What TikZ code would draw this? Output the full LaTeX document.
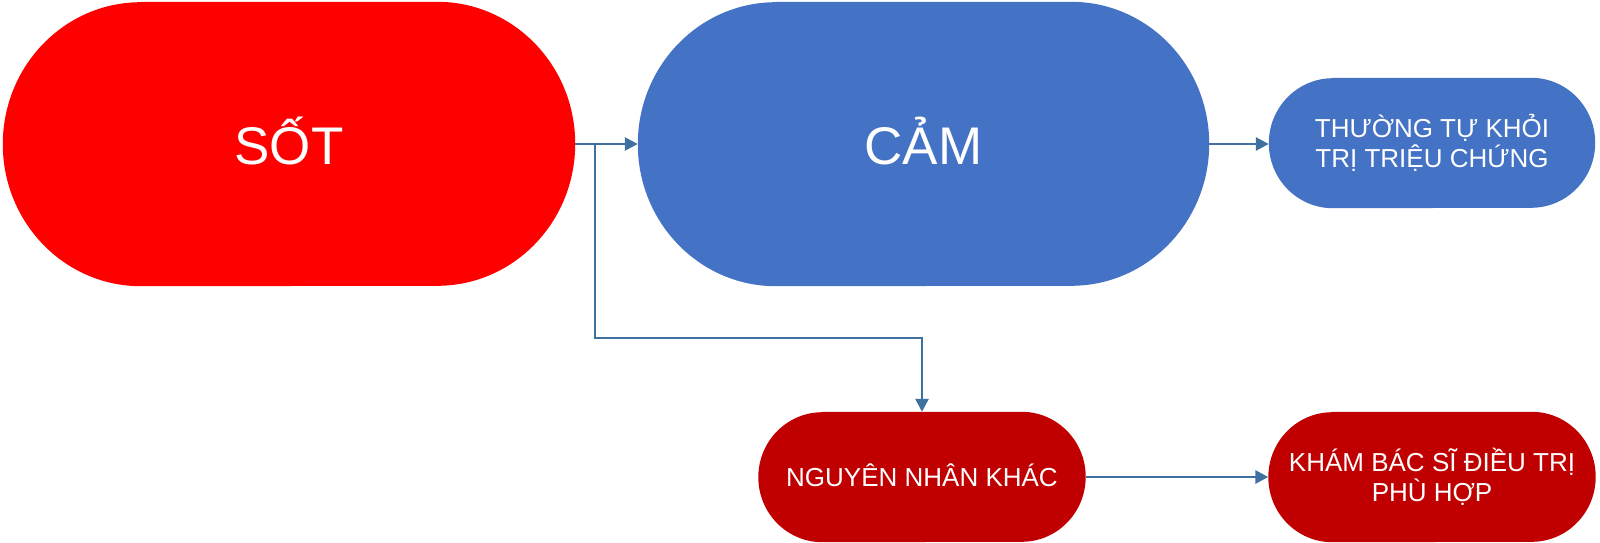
\documentclass[tikz,border=0pt]{standalone}
\usepackage{fontspec}
\setmainfont{Liberation Sans}
\usetikzlibrary{arrows.meta,backgrounds}
\definecolor{sotred}{RGB}{255,0,0}
\definecolor{camblue}{RGB}{68,114,196}
\definecolor{darkred}{RGB}{192,0,0}
\definecolor{connblue}{RGB}{62,112,160}
\newcommand\capsulefill[4]{%
  \fill[#2] ([xshift=#3]#1.north west) -- ([xshift=-#3]#1.north east)
    arc[start angle=90,end angle=-90,x radius=#3,y radius=#4]
    -- ([xshift=#3]#1.south west)
    arc[start angle=270,end angle=90,x radius=#3,y radius=#4] -- cycle;}
\tikzset{
  bigbox/.style={rectangle, minimum width=#1, minimum height=284pt, inner sep=0pt, text=white, font=\fontsize{53}{60}\selectfont, align=center},
  smallbox/.style={rectangle, minimum width=#1, minimum height=130pt, inner sep=0pt, text=white, font=\fontsize{26}{30}\selectfont, align=center},
  conn/.style={draw=connblue, line width=2.6pt, -{Triangle[length=13pt,width=13pt]}}
}
\begin{document}
\begin{tikzpicture}[x=1pt,y=-1pt]
\useasboundingbox (0,0) rectangle (1600,543);
\node[bigbox=572pt] (sot) at (289,144) {\raisebox{6pt}{SỐT}};
\node[bigbox=571pt] (cam) at (923.5,144) {\raisebox{6pt}{CẢM}};
\node[smallbox=326pt] (thuong) at (1432,143) {THƯỜNG TỰ KHỎI\\TRỊ TRIỆU CHỨNG};
\node[smallbox=327pt] (nguyen) at (922,477) {\raisebox{3pt}{NGUYÊN NHÂN KHÁC}};
\node[smallbox=327pt] (kham) at (1432,477) {KHÁM BÁC SĨ ĐIỀU TRỊ\\PHÙ HỢP};
\begin{scope}[on background layer]
\capsulefill{sot}{sotred}{138pt}{142pt}
\capsulefill{cam}{camblue}{138pt}{142pt}
\capsulefill{thuong}{camblue}{64pt}{65pt}
\capsulefill{nguyen}{darkred}{64pt}{65pt}
\capsulefill{kham}{darkred}{64pt}{65pt}
\end{scope}
\coordinate (j) at (595,144);
\coordinate (k) at (595,338);
\draw[conn] (sot.east) -- (cam.west);
\draw[conn] (j) -- (k) -| (nguyen.north);
\draw[conn] (cam.east) -- (thuong.west |- cam.east);
\draw[conn] (nguyen.east) -- (kham.west);
\end{tikzpicture}
\end{document}
